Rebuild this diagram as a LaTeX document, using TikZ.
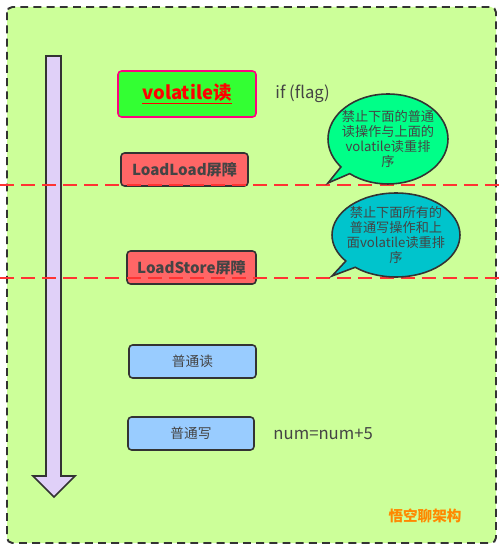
\documentclass[tikz,border=0pt]{standalone}
\usepackage{fontspec}
\setmainfont{Noto Sans CJK SC}
\usetikzlibrary{positioning,shapes.callouts}
\definecolor{bggreen}{HTML}{CCFF99}
\definecolor{framegray}{HTML}{333333}
\definecolor{vgreen}{HTML}{33FF33}
\definecolor{vpink}{HTML}{FF0080}
\definecolor{barrierred}{HTML}{FF6666}
\definecolor{dashred}{HTML}{FF3333}
\definecolor{opblue}{HTML}{99CCFF}
\definecolor{tipgreen}{HTML}{00FF88}
\definecolor{tipcyan}{HTML}{00C4CC}
\definecolor{arrowlilac}{HTML}{E0D0F8}
\definecolor{textgray}{HTML}{444444}
\definecolor{signorange}{HTML}{FF8800}
\tikzset{
  box/.style={draw=framegray, line width=0.9pt, rounded corners=2pt, inner sep=0pt,
    minimum height=0.66cm, text=textgray},
  barrier/.style={box, fill=barrierred, font=\fontsize{8.6}{10}\selectfont\bfseries},
  plainop/.style={box, fill=opblue, font=\fontsize{7.8}{9}\selectfont},
  bubble/.style={ellipse callout, draw=framegray, line width=0.9pt, inner sep=-5pt,
    align=center, text=textgray, font=\fontsize{7.5}{8.6}\selectfont,
    callout pointer arc=12},
  barrierline/.style={dashred, line width=1.4pt, dash pattern=on 8pt off 4pt},
  note/.style={text=textgray, font=\fontsize{9.5}{11}\selectfont}
}
\begin{document}
\begin{tikzpicture}[x=0.02cm, y=-0.02cm]
      \useasboundingbox (0,0) rectangle (502,547);
      % Frame and arrow
      \draw[fill=bggreen, draw=framegray, line width=1.1pt, dash pattern=on 4.5pt off 3pt,
        rounded corners=3pt] (7,7) rectangle (496,543);
      \draw[fill=arrowlilac, draw=framegray, line width=1pt]
        (46,56) -- (61,56) -- (61,476) -- (75,476) -- (54,497) -- (33,476) -- (46,476) -- cycle;
      % Define nodes
      \node[box, fill=vgreen, draw=vpink, minimum width=2.76cm, minimum height=0.92cm,
        text=red, font=\fontsize{10.5}{12}\selectfont\bfseries] (vread) at (187,94) {\underline{volatile读}};
      \node[note, right=0.25cm of vread] (cond) {if (flag)};
      \node[barrier, minimum width=2.54cm] (loadload) at (184.5,169.5) {LoadLoad屏障};
      \node[barrier, minimum width=2.58cm] (loadstore) at (191.5,267.5) {LoadStore屏障};
      \node[plainop, minimum width=2.54cm] (nread) at (192.5,361.5) {普通读};
      \node[plainop, minimum width=2.52cm] (nwrite) at (191,433.5) {普通写};
      \node[note, right=0.25cm of nwrite] (assign) {num=num+5};
      \node[text=signorange, font=\fontsize{8.3}{9}\selectfont\bfseries] (sign) at (425,516) {悟空聊架构};
      % Barrier lines
      \coordinate (l1a) at (0,185);
      \coordinate (l1b) at (502,185);
      \coordinate (l2a) at (0,278);
      \coordinate (l2b) at (502,278);
      \draw[barrierline] (l1a) -- (l1b);
      \draw[barrierline] (l2a) -- (l2b);
      % Callouts
      \coordinate (tip1) at (328,183);
      \coordinate (tip2) at (332,276);
      \node[bubble, fill=tipgreen, minimum width=2.4cm, minimum height=1.8cm,
        callout absolute pointer={(tip1)}] (why1) at (388,139)
        {禁止下面的普通\\读操作与上面的\\volatile读重排\\序};
      \node[bubble, fill=tipcyan, minimum width=2.56cm, minimum height=1.68cm,
        callout absolute pointer={(tip2)}] (why2) at (396,235)
        {禁止下面所有的\\普通写操作和上\\面volatile读重排\\序};
    \end{tikzpicture}
\end{document}
